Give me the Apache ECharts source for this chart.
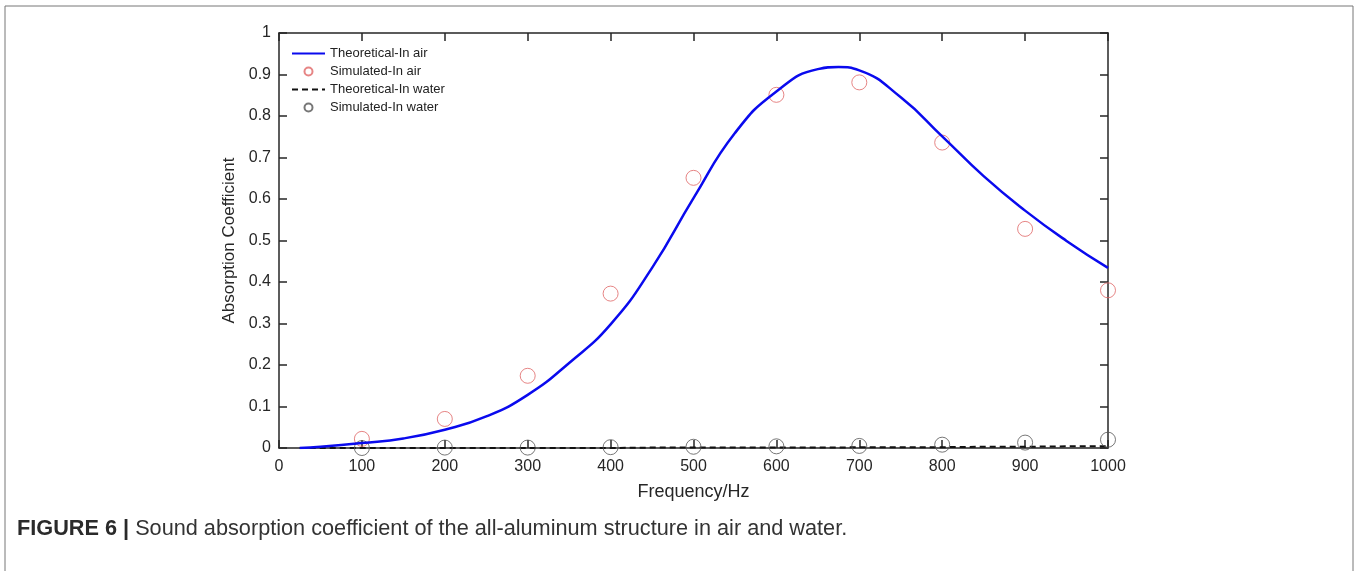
<!DOCTYPE html>
<html>
<head>
<meta charset="utf-8">
<title>Figure 6</title>
<script src="https://cdn.jsdelivr.net/npm/echarts@6/dist/echarts.min.js"></script>
<style>
  html, body { margin: 0; padding: 0; background: #fff; }
  #chart { width: 1359px; height: 571px; }
</style>
</head>
<body>
<div id="chart"></div>
<script>
// theoretical curve (in air)
const theoryFreq = [25, 50, 100, 150, 200, 250, 300, 350, 400, 450, 500, 550, 600, 650, 675, 700, 750, 800, 850, 900, 950, 1000]
const theoryAir = [0, 0.003, 0.012, 0.023, 0.044, 0.076, 0.128, 0.205, 0.298, 0.434, 0.602, 0.759, 0.859, 0.913, 0.918, 0.91, 0.845, 0.751, 0.655, 0.572, 0.499, 0.434]
const theoryWater = [0, 0, 0, 0, 0, 0, 0, 0, 0, 0.001, 0.001, 0.001, 0.001, 0.001, 0.001, 0.002, 0.002, 0.002, 0.003, 0.003, 0.004, 0.004]

// simulated points
const simFreq = [100, 200, 300, 400, 500, 600, 700, 800, 900, 1000]
const simAir = [0.022, 0.07, 0.174, 0.372, 0.651, 0.851, 0.881, 0.736, 0.528, 0.38]
const simWater = [0, 0.001, 0.001, 0.002, 0.003, 0.004, 0.005, 0.008, 0.013, 0.02]

const seriesNames = ['Theoretical-In air', 'Simulated-In air', 'Theoretical-In water', 'Simulated-In water']

const pair = (xs, ys) => xs.map((x, i) => [x, ys[i]])

const axisColor = '#262626'
const font = 'Liberation Sans, Arial, sans-serif'

function boxAxis(extra) {
  return Object.assign({
    type: 'value',
    axisLine: { show: true, onZero: false, lineStyle: { color: axisColor, width: 1.5 } },
    axisTick: { show: true, inside: true, length: 8, lineStyle: { color: axisColor, width: 1.5 } },
    splitLine: { show: false }
  }, extra)
}

const chart = echarts.init(document.getElementById('chart'))
chart.setOption({
  backgroundColor: '#fff',
  animation: false,
  textStyle: { fontFamily: font },
  grid: { left: 279, top: 33, right: 251, bottom: 123 },
  legend: {
    orient: 'vertical',
    left: 286,
    top: 42,
    itemWidth: 33,
    itemHeight: 8,
    itemGap: 5,
    textStyle: { fontSize: 13, color: '#222', fontFamily: font },
    data: [
      // the line entries show only the line, no dot in the middle
      { name: seriesNames[0], itemStyle: { opacity: 0 } },
      { name: seriesNames[1] },
      { name: seriesNames[2], itemStyle: { opacity: 0 } },
      { name: seriesNames[3] }
    ]
  },
  xAxis: [
    boxAxis({
      position: 'bottom', min: 0, max: 1000, interval: 100,
      name: 'Frequency/Hz', nameLocation: 'middle', nameGap: 35,
      nameTextStyle: { fontSize: 18, color: axisColor },
      axisLabel: { fontSize: 16, color: axisColor, margin: 11, formatter: v => String(v) }
    }),
    boxAxis({ position: 'top', min: 0, max: 1000, interval: 100, axisLabel: { show: false } })
  ],
  yAxis: [
    boxAxis({
      position: 'left', min: 0, max: 1, interval: 0.1,
      name: 'Absorption Coefficient', nameLocation: 'middle', nameGap: 33,
      nameTextStyle: { fontSize: 17, color: axisColor },
      axisLabel: { fontSize: 16, color: axisColor, margin: 8 }
    }),
    boxAxis({ position: 'right', min: 0, max: 1, interval: 0.1, axisLabel: { show: false } })
  ],
  series: [
    {
      name: seriesNames[0],
      type: 'line',
      smooth: true,
      symbol: 'none',
      lineStyle: { color: '#0a0aee', width: 2.5 },
      itemStyle: { color: '#0a0aee' },
      data: pair(theoryFreq, theoryAir),
      z: 4
    },
    {
      name: seriesNames[1],
      type: 'scatter',
      symbol: 'circle',
      symbolSize: 15,
      itemStyle: { color: 'rgba(0,0,0,0)', borderColor: '#e06666', borderWidth: 1 },
      data: pair(simFreq, simAir),
      z: 3
    },
    {
      name: seriesNames[2],
      type: 'line',
      symbol: 'none',
      lineStyle: { color: '#111', width: 2, type: [6, 4] },
      itemStyle: { color: '#111' },
      data: pair(theoryFreq, theoryWater),
      z: 3
    },
    {
      name: seriesNames[3],
      type: 'scatter',
      symbol: 'circle',
      symbolSize: 15,
      itemStyle: { color: 'rgba(0,0,0,0)', borderColor: '#555', borderWidth: 1 },
      data: pair(simFreq, simWater),
      z: 3
    }
  ],
  graphic: [
    {
      type: 'rect',
      silent: true,
      shape: { x: 5, y: 6, width: 1348, height: 600 },
      style: { fill: 'none', stroke: '#777', lineWidth: 1 }
    },
    {
      type: 'text',
      left: 17,
      top: 518,
      style: {
        text: '{b|FIGURE 6 |} Sound absorption coefficient of the all-aluminum structure in air and water.',
        rich: {
          b: { fontWeight: 'bold', fontSize: 21.7, fill: '#2a2a2a', fontFamily: font }
        },
        fontSize: 21.7,
        fill: '#333',
        fontFamily: font
      }
    }
  ]
})
</script>
</body>
</html>
